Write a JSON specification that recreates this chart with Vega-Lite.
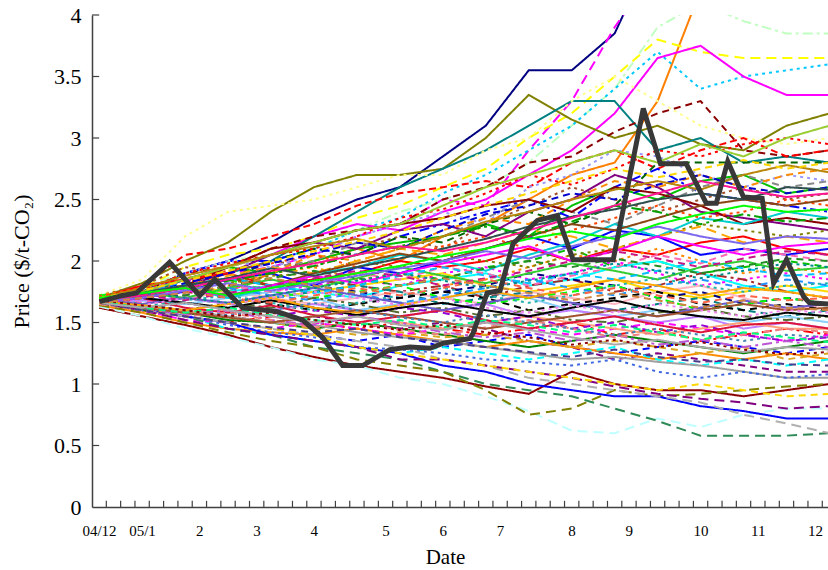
{
"$schema":"https://vega.github.io/schema/vega-lite/v6.json",
"width":736,"height":492,
"autosize":{"type":"none"},
"padding":{"left":92,"top":15,"right":0,"bottom":63},
"background":"white",
"config":{"view":{"stroke":null},"font":"Liberation Serif",
 "axis":{"labelFont":"Liberation Serif","titleFont":"Liberation Serif","labelColor":"#000","titleColor":"#000","titleFontWeight":"normal","domainColor":"#404040","domainWidth":1.5,"ticks":false,"grid":false}},
"datasets":{
"xt":[{"t":1},{"t":2},{"t":3},{"t":4},{"t":5},{"t":6},{"t":7},{"t":8},{"t":9},{"t":10},{"t":11},{"t":12},{"t":13},{"t":14},{"t":15},{"t":16},{"t":17},{"t":18},{"t":19},{"t":20},{"t":21},{"t":22},{"t":23},{"t":24},{"t":25},{"t":26},{"t":27},{"t":28},{"t":29},{"t":30},{"t":31},{"t":32},{"t":33},{"t":34},{"t":35},{"t":36},{"t":37},{"t":38},{"t":39},{"t":40},{"t":41},{"t":42},{"t":43},{"t":44},{"t":45},{"t":46},{"t":47},{"t":48},{"t":49},{"t":50},{"t":51}],
"yt":[{"v":0.5},{"v":1},{"v":1.5},{"v":2},{"v":2.5},{"v":3},{"v":3.5},{"v":4}],
"sim":[
{"s":"01","w":0.5,"p":1.68},{"s":"01","w":3.5,"p":1.75},{"s":"01","w":6.5,"p":1.9},{"s":"01","w":9.5,"p":2.0},{"s":"01","w":12.5,"p":2.15},{"s":"01","w":15.5,"p":2.35},{"s":"01","w":18.5,"p":2.5},{"s":"01","w":21.5,"p":2.6},{"s":"01","w":24.5,"p":2.85},{"s":"01","w":27.5,"p":3.1},{"s":"01","w":30.5,"p":3.55},{"s":"01","w":33.5,"p":3.55},{"s":"01","w":36.5,"p":3.85},{"s":"01","w":39.5,"p":4.6},{"s":"01","w":42.5,"p":4.9},{"s":"01","w":45.5,"p":5.0},{"s":"01","w":48.5,"p":5.0},{"s":"01","w":51.5,"p":5.0},
{"s":"02","w":0.5,"p":1.7},{"s":"02","w":3.5,"p":1.72},{"s":"02","w":6.5,"p":1.85},{"s":"02","w":9.5,"p":1.9},{"s":"02","w":12.5,"p":1.95},{"s":"02","w":15.5,"p":2.05},{"s":"02","w":18.5,"p":2.2},{"s":"02","w":21.5,"p":2.3},{"s":"02","w":24.5,"p":2.5},{"s":"02","w":27.5,"p":2.45},{"s":"02","w":30.5,"p":2.9},{"s":"02","w":33.5,"p":3.3},{"s":"02","w":36.5,"p":3.9},{"s":"02","w":39.5,"p":4.4},{"s":"02","w":42.5,"p":4.6},{"s":"02","w":45.5,"p":4.6},{"s":"02","w":48.5,"p":4.7},{"s":"02","w":51.5,"p":4.8},
{"s":"03","w":0.5,"p":1.65},{"s":"03","w":3.5,"p":1.7},{"s":"03","w":6.5,"p":1.8},{"s":"03","w":9.5,"p":1.75},{"s":"03","w":12.5,"p":1.9},{"s":"03","w":15.5,"p":2.0},{"s":"03","w":18.5,"p":2.1},{"s":"03","w":21.5,"p":2.0},{"s":"03","w":24.5,"p":2.2},{"s":"03","w":27.5,"p":2.3},{"s":"03","w":30.5,"p":2.5},{"s":"03","w":33.5,"p":2.7},{"s":"03","w":36.5,"p":2.8},{"s":"03","w":39.5,"p":3.3},{"s":"03","w":42.5,"p":4.2},{"s":"03","w":45.5,"p":4.5},{"s":"03","w":48.5,"p":4.5},{"s":"03","w":51.5,"p":4.5},
{"s":"04","w":0.5,"p":1.72},{"s":"04","w":3.5,"p":1.8},{"s":"04","w":6.5,"p":1.9},{"s":"04","w":9.5,"p":2.0},{"s":"04","w":12.5,"p":2.05},{"s":"04","w":15.5,"p":2.1},{"s":"04","w":18.5,"p":2.25},{"s":"04","w":21.5,"p":2.4},{"s":"04","w":24.5,"p":2.5},{"s":"04","w":27.5,"p":2.6},{"s":"04","w":30.5,"p":2.8},{"s":"04","w":33.5,"p":3.1},{"s":"04","w":36.5,"p":3.4},{"s":"04","w":39.5,"p":3.9},{"s":"04","w":42.5,"p":4.1},{"s":"04","w":45.5,"p":3.95},{"s":"04","w":48.5,"p":3.85},{"s":"04","w":51.5,"p":3.85},
{"s":"05","w":0.5,"p":1.7},{"s":"05","w":3.5,"p":1.78},{"s":"05","w":6.5,"p":1.95},{"s":"05","w":9.5,"p":2.05},{"s":"05","w":12.5,"p":2.1},{"s":"05","w":15.5,"p":2.2},{"s":"05","w":18.5,"p":2.35},{"s":"05","w":21.5,"p":2.45},{"s":"05","w":24.5,"p":2.6},{"s":"05","w":27.5,"p":2.75},{"s":"05","w":30.5,"p":3.0},{"s":"05","w":33.5,"p":3.2},{"s":"05","w":36.5,"p":3.5},{"s":"05","w":39.5,"p":3.8},{"s":"05","w":42.5,"p":3.7},{"s":"05","w":45.5,"p":3.65},{"s":"05","w":48.5,"p":3.65},{"s":"05","w":51.5,"p":3.65},
{"s":"06","w":0.5,"p":1.66},{"s":"06","w":3.5,"p":1.7},{"s":"06","w":6.5,"p":1.8},{"s":"06","w":9.5,"p":1.9},{"s":"06","w":12.5,"p":2.0},{"s":"06","w":15.5,"p":2.1},{"s":"06","w":18.5,"p":2.25},{"s":"06","w":21.5,"p":2.35},{"s":"06","w":24.5,"p":2.55},{"s":"06","w":27.5,"p":2.7},{"s":"06","w":30.5,"p":2.9},{"s":"06","w":33.5,"p":3.1},{"s":"06","w":36.5,"p":3.4},{"s":"06","w":39.5,"p":3.7},{"s":"06","w":42.5,"p":3.4},{"s":"06","w":45.5,"p":3.5},{"s":"06","w":48.5,"p":3.55},{"s":"06","w":51.5,"p":3.6},
{"s":"07","w":0.5,"p":1.68},{"s":"07","w":3.5,"p":1.75},{"s":"07","w":6.5,"p":1.85},{"s":"07","w":9.5,"p":1.95},{"s":"07","w":12.5,"p":2.05},{"s":"07","w":15.5,"p":2.2},{"s":"07","w":18.5,"p":2.3},{"s":"07","w":21.5,"p":2.25},{"s":"07","w":24.5,"p":2.4},{"s":"07","w":27.5,"p":2.5},{"s":"07","w":30.5,"p":2.7},{"s":"07","w":33.5,"p":2.9},{"s":"07","w":36.5,"p":3.2},{"s":"07","w":39.5,"p":3.65},{"s":"07","w":42.5,"p":3.75},{"s":"07","w":45.5,"p":3.5},{"s":"07","w":48.5,"p":3.35},{"s":"07","w":51.5,"p":3.35},
{"s":"08","w":0.5,"p":1.7},{"s":"08","w":3.5,"p":1.82},{"s":"08","w":6.5,"p":2.0},{"s":"08","w":9.5,"p":2.15},{"s":"08","w":12.5,"p":2.4},{"s":"08","w":15.5,"p":2.6},{"s":"08","w":18.5,"p":2.7},{"s":"08","w":21.5,"p":2.7},{"s":"08","w":24.5,"p":2.75},{"s":"08","w":27.5,"p":3.0},{"s":"08","w":30.5,"p":3.35},{"s":"08","w":33.5,"p":3.15},{"s":"08","w":36.5,"p":3.0},{"s":"08","w":39.5,"p":3.1},{"s":"08","w":42.5,"p":2.95},{"s":"08","w":45.5,"p":2.9},{"s":"08","w":48.5,"p":3.1},{"s":"08","w":51.5,"p":3.2},
{"s":"09","w":0.5,"p":1.65},{"s":"09","w":3.5,"p":1.72},{"s":"09","w":6.5,"p":1.85},{"s":"09","w":9.5,"p":1.9},{"s":"09","w":12.5,"p":2.0},{"s":"09","w":15.5,"p":2.2},{"s":"09","w":18.5,"p":2.4},{"s":"09","w":21.5,"p":2.6},{"s":"09","w":24.5,"p":2.75},{"s":"09","w":27.5,"p":2.9},{"s":"09","w":30.5,"p":3.1},{"s":"09","w":33.5,"p":3.3},{"s":"09","w":36.5,"p":3.3},{"s":"09","w":39.5,"p":2.9},{"s":"09","w":42.5,"p":3.0},{"s":"09","w":45.5,"p":2.8},{"s":"09","w":48.5,"p":2.85},{"s":"09","w":51.5,"p":2.8},
{"s":"10","w":0.5,"p":1.7},{"s":"10","w":3.5,"p":1.75},{"s":"10","w":6.5,"p":1.9},{"s":"10","w":9.5,"p":1.95},{"s":"10","w":12.5,"p":2.1},{"s":"10","w":15.5,"p":2.2},{"s":"10","w":18.5,"p":2.25},{"s":"10","w":21.5,"p":2.3},{"s":"10","w":24.5,"p":2.5},{"s":"10","w":27.5,"p":2.6},{"s":"10","w":30.5,"p":2.8},{"s":"10","w":33.5,"p":2.85},{"s":"10","w":36.5,"p":3.05},{"s":"10","w":39.5,"p":3.2},{"s":"10","w":42.5,"p":3.3},{"s":"10","w":45.5,"p":2.9},{"s":"10","w":48.5,"p":2.85},{"s":"10","w":51.5,"p":2.9},
{"s":"11","w":0.5,"p":1.72},{"s":"11","w":3.5,"p":1.85},{"s":"11","w":6.5,"p":2.2},{"s":"11","w":9.5,"p":2.4},{"s":"11","w":12.5,"p":2.45},{"s":"11","w":15.5,"p":2.5},{"s":"11","w":18.5,"p":2.6},{"s":"11","w":21.5,"p":2.7},{"s":"11","w":24.5,"p":2.7},{"s":"11","w":27.5,"p":2.9},{"s":"11","w":30.5,"p":3.0},{"s":"11","w":33.5,"p":3.3},{"s":"11","w":36.5,"p":3.5},{"s":"11","w":39.5,"p":3.3},{"s":"11","w":42.5,"p":3.1},{"s":"11","w":45.5,"p":3.0},{"s":"11","w":48.5,"p":2.95},{"s":"11","w":51.5,"p":3.0},
{"s":"12","w":0.5,"p":1.68},{"s":"12","w":3.5,"p":1.8},{"s":"12","w":6.5,"p":2.05},{"s":"12","w":9.5,"p":2.1},{"s":"12","w":12.5,"p":2.2},{"s":"12","w":15.5,"p":2.3},{"s":"12","w":18.5,"p":2.45},{"s":"12","w":21.5,"p":2.55},{"s":"12","w":24.5,"p":2.6},{"s":"12","w":27.5,"p":2.65},{"s":"12","w":30.5,"p":2.6},{"s":"12","w":33.5,"p":2.8},{"s":"12","w":36.5,"p":2.9},{"s":"12","w":39.5,"p":2.75},{"s":"12","w":42.5,"p":2.9},{"s":"12","w":45.5,"p":3.0},{"s":"12","w":48.5,"p":2.85},{"s":"12","w":51.5,"p":2.9},
{"s":"13","w":0.5,"p":1.7},{"s":"13","w":3.5,"p":1.75},{"s":"13","w":6.5,"p":1.85},{"s":"13","w":9.5,"p":1.95},{"s":"13","w":12.5,"p":1.9},{"s":"13","w":15.5,"p":2.0},{"s":"13","w":18.5,"p":2.1},{"s":"13","w":21.5,"p":2.15},{"s":"13","w":24.5,"p":2.2},{"s":"13","w":27.5,"p":2.3},{"s":"13","w":30.5,"p":2.2},{"s":"13","w":33.5,"p":2.45},{"s":"13","w":36.5,"p":2.6},{"s":"13","w":39.5,"p":2.5},{"s":"13","w":42.5,"p":2.65},{"s":"13","w":45.5,"p":2.7},{"s":"13","w":48.5,"p":2.55},{"s":"13","w":51.5,"p":2.6},
{"s":"14","w":0.5,"p":1.65},{"s":"14","w":3.5,"p":1.7},{"s":"14","w":6.5,"p":1.9},{"s":"14","w":9.5,"p":2.0},{"s":"14","w":12.5,"p":2.0},{"s":"14","w":15.5,"p":2.1},{"s":"14","w":18.5,"p":2.05},{"s":"14","w":21.5,"p":2.2},{"s":"14","w":24.5,"p":2.3},{"s":"14","w":27.5,"p":2.4},{"s":"14","w":30.5,"p":2.5},{"s":"14","w":33.5,"p":2.35},{"s":"14","w":36.5,"p":2.6},{"s":"14","w":39.5,"p":2.75},{"s":"14","w":42.5,"p":2.55},{"s":"14","w":45.5,"p":2.5},{"s":"14","w":48.5,"p":2.45},{"s":"14","w":51.5,"p":2.4},
{"s":"15","w":0.5,"p":1.72},{"s":"15","w":3.5,"p":1.8},{"s":"15","w":6.5,"p":1.95},{"s":"15","w":9.5,"p":1.9},{"s":"15","w":12.5,"p":2.0},{"s":"15","w":15.5,"p":1.95},{"s":"15","w":18.5,"p":2.1},{"s":"15","w":21.5,"p":2.2},{"s":"15","w":24.5,"p":2.1},{"s":"15","w":27.5,"p":2.3},{"s":"15","w":30.5,"p":2.45},{"s":"15","w":33.5,"p":2.6},{"s":"15","w":36.5,"p":2.5},{"s":"15","w":39.5,"p":2.4},{"s":"15","w":42.5,"p":2.5},{"s":"15","w":45.5,"p":2.6},{"s":"15","w":48.5,"p":2.5},{"s":"15","w":51.5,"p":2.55},
{"s":"16","w":0.5,"p":1.68},{"s":"16","w":3.5,"p":1.75},{"s":"16","w":6.5,"p":1.8},{"s":"16","w":9.5,"p":1.9},{"s":"16","w":12.5,"p":2.05},{"s":"16","w":15.5,"p":2.15},{"s":"16","w":18.5,"p":2.1},{"s":"16","w":21.5,"p":2.25},{"s":"16","w":24.5,"p":2.3},{"s":"16","w":27.5,"p":2.2},{"s":"16","w":30.5,"p":2.4},{"s":"16","w":33.5,"p":2.5},{"s":"16","w":36.5,"p":2.7},{"s":"16","w":39.5,"p":2.6},{"s":"16","w":42.5,"p":2.4},{"s":"16","w":45.5,"p":2.35},{"s":"16","w":48.5,"p":2.3},{"s":"16","w":51.5,"p":2.25},
{"s":"17","w":0.5,"p":1.7},{"s":"17","w":3.5,"p":1.72},{"s":"17","w":6.5,"p":1.85},{"s":"17","w":9.5,"p":1.8},{"s":"17","w":12.5,"p":1.95},{"s":"17","w":15.5,"p":2.0},{"s":"17","w":18.5,"p":2.15},{"s":"17","w":21.5,"p":2.1},{"s":"17","w":24.5,"p":2.2},{"s":"17","w":27.5,"p":2.35},{"s":"17","w":30.5,"p":2.5},{"s":"17","w":33.5,"p":2.4},{"s":"17","w":36.5,"p":2.3},{"s":"17","w":39.5,"p":2.45},{"s":"17","w":42.5,"p":2.6},{"s":"17","w":45.5,"p":2.7},{"s":"17","w":48.5,"p":2.6},{"s":"17","w":51.5,"p":2.65},
{"s":"18","w":0.5,"p":1.66},{"s":"18","w":3.5,"p":1.74},{"s":"18","w":6.5,"p":1.9},{"s":"18","w":9.5,"p":2.0},{"s":"18","w":12.5,"p":1.95},{"s":"18","w":15.5,"p":2.05},{"s":"18","w":18.5,"p":2.2},{"s":"18","w":21.5,"p":2.3},{"s":"18","w":24.5,"p":2.4},{"s":"18","w":27.5,"p":2.3},{"s":"18","w":30.5,"p":2.6},{"s":"18","w":33.5,"p":2.7},{"s":"18","w":36.5,"p":2.9},{"s":"18","w":39.5,"p":2.85},{"s":"18","w":42.5,"p":2.7},{"s":"18","w":45.5,"p":2.6},{"s":"18","w":48.5,"p":2.7},{"s":"18","w":51.5,"p":2.65},
{"s":"19","w":0.5,"p":1.7},{"s":"19","w":3.5,"p":1.76},{"s":"19","w":6.5,"p":1.8},{"s":"19","w":9.5,"p":1.85},{"s":"19","w":12.5,"p":2.0},{"s":"19","w":15.5,"p":2.1},{"s":"19","w":18.5,"p":2.05},{"s":"19","w":21.5,"p":2.2},{"s":"19","w":24.5,"p":2.15},{"s":"19","w":27.5,"p":2.3},{"s":"19","w":30.5,"p":2.4},{"s":"19","w":33.5,"p":2.3},{"s":"19","w":36.5,"p":2.45},{"s":"19","w":39.5,"p":2.8},{"s":"19","w":42.5,"p":2.8},{"s":"19","w":45.5,"p":2.8},{"s":"19","w":48.5,"p":2.8},{"s":"19","w":51.5,"p":2.8},
{"s":"20","w":0.5,"p":1.67},{"s":"20","w":3.5,"p":1.74},{"s":"20","w":6.5,"p":1.85},{"s":"20","w":9.5,"p":1.8},{"s":"20","w":12.5,"p":1.9},{"s":"20","w":15.5,"p":2.05},{"s":"20","w":18.5,"p":2.0},{"s":"20","w":21.5,"p":2.1},{"s":"20","w":24.5,"p":2.25},{"s":"20","w":27.5,"p":2.35},{"s":"20","w":30.5,"p":2.3},{"s":"20","w":33.5,"p":2.5},{"s":"20","w":36.5,"p":2.65},{"s":"20","w":39.5,"p":2.6},{"s":"20","w":42.5,"p":2.7},{"s":"20","w":45.5,"p":2.6},{"s":"20","w":48.5,"p":2.7},{"s":"20","w":51.5,"p":2.75},
{"s":"21","w":0.5,"p":1.68},{"s":"21","w":3.5,"p":1.72},{"s":"21","w":6.5,"p":1.8},{"s":"21","w":9.5,"p":1.95},{"s":"21","w":12.5,"p":2.1},{"s":"21","w":15.5,"p":2.15},{"s":"21","w":18.5,"p":2.25},{"s":"21","w":21.5,"p":2.3},{"s":"21","w":24.5,"p":2.35},{"s":"21","w":27.5,"p":2.45},{"s":"21","w":30.5,"p":2.5},{"s":"21","w":33.5,"p":2.4},{"s":"21","w":36.5,"p":2.6},{"s":"21","w":39.5,"p":2.55},{"s":"21","w":42.5,"p":2.45},{"s":"21","w":45.5,"p":2.3},{"s":"21","w":48.5,"p":2.35},{"s":"21","w":51.5,"p":2.3},
{"s":"22","w":0.5,"p":1.7},{"s":"22","w":3.5,"p":1.8},{"s":"22","w":6.5,"p":1.85},{"s":"22","w":9.5,"p":1.9},{"s":"22","w":12.5,"p":1.8},{"s":"22","w":15.5,"p":1.85},{"s":"22","w":18.5,"p":1.9},{"s":"22","w":21.5,"p":2.0},{"s":"22","w":24.5,"p":1.95},{"s":"22","w":27.5,"p":2.0},{"s":"22","w":30.5,"p":2.1},{"s":"22","w":33.5,"p":2.0},{"s":"22","w":36.5,"p":2.1},{"s":"22","w":39.5,"p":2.05},{"s":"22","w":42.5,"p":2.15},{"s":"22","w":45.5,"p":2.2},{"s":"22","w":48.5,"p":2.1},{"s":"22","w":51.5,"p":2.05},
{"s":"23","w":0.5,"p":1.66},{"s":"23","w":3.5,"p":1.72},{"s":"23","w":6.5,"p":1.8},{"s":"23","w":9.5,"p":1.75},{"s":"23","w":12.5,"p":1.8},{"s":"23","w":15.5,"p":1.85},{"s":"23","w":18.5,"p":1.8},{"s":"23","w":21.5,"p":1.9},{"s":"23","w":24.5,"p":1.85},{"s":"23","w":27.5,"p":1.95},{"s":"23","w":30.5,"p":2.0},{"s":"23","w":33.5,"p":2.1},{"s":"23","w":36.5,"p":1.95},{"s":"23","w":39.5,"p":2.0},{"s":"23","w":42.5,"p":1.9},{"s":"23","w":45.5,"p":1.95},{"s":"23","w":48.5,"p":2.0},{"s":"23","w":51.5,"p":1.95},
{"s":"24","w":0.5,"p":1.68},{"s":"24","w":3.5,"p":1.7},{"s":"24","w":6.5,"p":1.75},{"s":"24","w":9.5,"p":1.85},{"s":"24","w":12.5,"p":1.9},{"s":"24","w":15.5,"p":1.8},{"s":"24","w":18.5,"p":1.95},{"s":"24","w":21.5,"p":1.9},{"s":"24","w":24.5,"p":2.0},{"s":"24","w":27.5,"p":2.1},{"s":"24","w":30.5,"p":2.2},{"s":"24","w":33.5,"p":2.1},{"s":"24","w":36.5,"p":2.25},{"s":"24","w":39.5,"p":2.2},{"s":"24","w":42.5,"p":2.05},{"s":"24","w":45.5,"p":2.1},{"s":"24","w":48.5,"p":2.05},{"s":"24","w":51.5,"p":2.1},
{"s":"25","w":0.5,"p":1.7},{"s":"25","w":3.5,"p":1.75},{"s":"25","w":6.5,"p":1.85},{"s":"25","w":9.5,"p":1.8},{"s":"25","w":12.5,"p":1.75},{"s":"25","w":15.5,"p":1.8},{"s":"25","w":18.5,"p":1.85},{"s":"25","w":21.5,"p":1.8},{"s":"25","w":24.5,"p":1.9},{"s":"25","w":27.5,"p":1.95},{"s":"25","w":30.5,"p":1.85},{"s":"25","w":33.5,"p":1.9},{"s":"25","w":36.5,"p":2.0},{"s":"25","w":39.5,"p":1.9},{"s":"25","w":42.5,"p":1.8},{"s":"25","w":45.5,"p":1.85},{"s":"25","w":48.5,"p":1.9},{"s":"25","w":51.5,"p":1.85},
{"s":"26","w":0.5,"p":1.65},{"s":"26","w":3.5,"p":1.68},{"s":"26","w":6.5,"p":1.7},{"s":"26","w":9.5,"p":1.75},{"s":"26","w":12.5,"p":1.8},{"s":"26","w":15.5,"p":1.75},{"s":"26","w":18.5,"p":1.7},{"s":"26","w":21.5,"p":1.8},{"s":"26","w":24.5,"p":1.85},{"s":"26","w":27.5,"p":1.9},{"s":"26","w":30.5,"p":1.8},{"s":"26","w":33.5,"p":1.85},{"s":"26","w":36.5,"p":1.95},{"s":"26","w":39.5,"p":2.0},{"s":"26","w":42.5,"p":1.9},{"s":"26","w":45.5,"p":1.8},{"s":"26","w":48.5,"p":1.75},{"s":"26","w":51.5,"p":1.8},
{"s":"27","w":0.5,"p":1.72},{"s":"27","w":3.5,"p":1.78},{"s":"27","w":6.5,"p":1.8},{"s":"27","w":9.5,"p":1.85},{"s":"27","w":12.5,"p":1.9},{"s":"27","w":15.5,"p":1.95},{"s":"27","w":18.5,"p":1.85},{"s":"27","w":21.5,"p":1.9},{"s":"27","w":24.5,"p":1.8},{"s":"27","w":27.5,"p":1.85},{"s":"27","w":30.5,"p":1.95},{"s":"27","w":33.5,"p":2.05},{"s":"27","w":36.5,"p":2.0},{"s":"27","w":39.5,"p":2.1},{"s":"27","w":42.5,"p":2.0},{"s":"27","w":45.5,"p":1.9},{"s":"27","w":48.5,"p":1.95},{"s":"27","w":51.5,"p":1.9},
{"s":"28","w":0.5,"p":1.67},{"s":"28","w":3.5,"p":1.7},{"s":"28","w":6.5,"p":1.75},{"s":"28","w":9.5,"p":1.7},{"s":"28","w":12.5,"p":1.75},{"s":"28","w":15.5,"p":1.85},{"s":"28","w":18.5,"p":1.8},{"s":"28","w":21.5,"p":1.75},{"s":"28","w":24.5,"p":1.8},{"s":"28","w":27.5,"p":1.7},{"s":"28","w":30.5,"p":1.8},{"s":"28","w":33.5,"p":1.85},{"s":"28","w":36.5,"p":1.75},{"s":"28","w":39.5,"p":1.8},{"s":"28","w":42.5,"p":1.9},{"s":"28","w":45.5,"p":1.85},{"s":"28","w":48.5,"p":1.75},{"s":"28","w":51.5,"p":1.7},
{"s":"29","w":0.5,"p":1.7},{"s":"29","w":3.5,"p":1.74},{"s":"29","w":6.5,"p":1.8},{"s":"29","w":9.5,"p":1.75},{"s":"29","w":12.5,"p":1.7},{"s":"29","w":15.5,"p":1.75},{"s":"29","w":18.5,"p":1.8},{"s":"29","w":21.5,"p":1.85},{"s":"29","w":24.5,"p":1.9},{"s":"29","w":27.5,"p":1.8},{"s":"29","w":30.5,"p":1.75},{"s":"29","w":33.5,"p":1.8},{"s":"29","w":36.5,"p":1.85},{"s":"29","w":39.5,"p":1.75},{"s":"29","w":42.5,"p":1.7},{"s":"29","w":45.5,"p":1.75},{"s":"29","w":48.5,"p":1.8},{"s":"29","w":51.5,"p":1.75},
{"s":"30","w":0.5,"p":1.66},{"s":"30","w":3.5,"p":1.7},{"s":"30","w":6.5,"p":1.72},{"s":"30","w":9.5,"p":1.8},{"s":"30","w":12.5,"p":1.85},{"s":"30","w":15.5,"p":1.8},{"s":"30","w":18.5,"p":1.75},{"s":"30","w":21.5,"p":1.7},{"s":"30","w":24.5,"p":1.75},{"s":"30","w":27.5,"p":1.8},{"s":"30","w":30.5,"p":1.9},{"s":"30","w":33.5,"p":1.85},{"s":"30","w":36.5,"p":1.8},{"s":"30","w":39.5,"p":1.7},{"s":"30","w":42.5,"p":1.75},{"s":"30","w":45.5,"p":1.65},{"s":"30","w":48.5,"p":1.7},{"s":"30","w":51.5,"p":1.65},
{"s":"31","w":0.5,"p":1.68},{"s":"31","w":3.5,"p":1.65},{"s":"31","w":6.5,"p":1.7},{"s":"31","w":9.5,"p":1.75},{"s":"31","w":12.5,"p":1.7},{"s":"31","w":15.5,"p":1.65},{"s":"31","w":18.5,"p":1.7},{"s":"31","w":21.5,"p":1.75},{"s":"31","w":24.5,"p":1.7},{"s":"31","w":27.5,"p":1.65},{"s":"31","w":30.5,"p":1.75},{"s":"31","w":33.5,"p":1.7},{"s":"31","w":36.5,"p":1.65},{"s":"31","w":39.5,"p":1.75},{"s":"31","w":42.5,"p":1.8},{"s":"31","w":45.5,"p":1.7},{"s":"31","w":48.5,"p":1.6},{"s":"31","w":51.5,"p":1.65},
{"s":"32","w":0.5,"p":1.7},{"s":"32","w":3.5,"p":1.75},{"s":"32","w":6.5,"p":1.7},{"s":"32","w":9.5,"p":1.65},{"s":"32","w":12.5,"p":1.7},{"s":"32","w":15.5,"p":1.75},{"s":"32","w":18.5,"p":1.8},{"s":"32","w":21.5,"p":1.75},{"s":"32","w":24.5,"p":1.65},{"s":"32","w":27.5,"p":1.7},{"s":"32","w":30.5,"p":1.75},{"s":"32","w":33.5,"p":1.65},{"s":"32","w":36.5,"p":1.6},{"s":"32","w":39.5,"p":1.65},{"s":"32","w":42.5,"p":1.7},{"s":"32","w":45.5,"p":1.6},{"s":"32","w":48.5,"p":1.55},{"s":"32","w":51.5,"p":1.6},
{"s":"33","w":0.5,"p":1.65},{"s":"33","w":3.5,"p":1.7},{"s":"33","w":6.5,"p":1.75},{"s":"33","w":9.5,"p":1.7},{"s":"33","w":12.5,"p":1.65},{"s":"33","w":15.5,"p":1.6},{"s":"33","w":18.5,"p":1.65},{"s":"33","w":21.5,"p":1.7},{"s":"33","w":24.5,"p":1.75},{"s":"33","w":27.5,"p":1.7},{"s":"33","w":30.5,"p":1.6},{"s":"33","w":33.5,"p":1.65},{"s":"33","w":36.5,"p":1.7},{"s":"33","w":39.5,"p":1.75},{"s":"33","w":42.5,"p":1.65},{"s":"33","w":45.5,"p":1.6},{"s":"33","w":48.5,"p":1.65},{"s":"33","w":51.5,"p":1.6},
{"s":"34","w":0.5,"p":1.7},{"s":"34","w":3.5,"p":1.68},{"s":"34","w":6.5,"p":1.65},{"s":"34","w":9.5,"p":1.7},{"s":"34","w":12.5,"p":1.75},{"s":"34","w":15.5,"p":1.7},{"s":"34","w":18.5,"p":1.6},{"s":"34","w":21.5,"p":1.65},{"s":"34","w":24.5,"p":1.7},{"s":"34","w":27.5,"p":1.75},{"s":"34","w":30.5,"p":1.7},{"s":"34","w":33.5,"p":1.6},{"s":"34","w":36.5,"p":1.55},{"s":"34","w":39.5,"p":1.6},{"s":"34","w":42.5,"p":1.55},{"s":"34","w":45.5,"p":1.5},{"s":"34","w":48.5,"p":1.55},{"s":"34","w":51.5,"p":1.5},
{"s":"35","w":0.5,"p":1.72},{"s":"35","w":3.5,"p":1.75},{"s":"35","w":6.5,"p":1.8},{"s":"35","w":9.5,"p":1.85},{"s":"35","w":12.5,"p":1.75},{"s":"35","w":15.5,"p":1.7},{"s":"35","w":18.5,"p":1.75},{"s":"35","w":21.5,"p":1.8},{"s":"35","w":24.5,"p":1.7},{"s":"35","w":27.5,"p":1.65},{"s":"35","w":30.5,"p":1.7},{"s":"35","w":33.5,"p":1.75},{"s":"35","w":36.5,"p":1.8},{"s":"35","w":39.5,"p":1.7},{"s":"35","w":42.5,"p":1.6},{"s":"35","w":45.5,"p":1.65},{"s":"35","w":48.5,"p":1.7},{"s":"35","w":51.5,"p":1.65},
{"s":"36","w":0.5,"p":1.66},{"s":"36","w":3.5,"p":1.68},{"s":"36","w":6.5,"p":1.7},{"s":"36","w":9.5,"p":1.65},{"s":"36","w":12.5,"p":1.6},{"s":"36","w":15.5,"p":1.65},{"s":"36","w":18.5,"p":1.6},{"s":"36","w":21.5,"p":1.55},{"s":"36","w":24.5,"p":1.6},{"s":"36","w":27.5,"p":1.65},{"s":"36","w":30.5,"p":1.55},{"s":"36","w":33.5,"p":1.6},{"s":"36","w":36.5,"p":1.55},{"s":"36","w":39.5,"p":1.5},{"s":"36","w":42.5,"p":1.55},{"s":"36","w":45.5,"p":1.45},{"s":"36","w":48.5,"p":1.5},{"s":"36","w":51.5,"p":1.45},
{"s":"37","w":0.5,"p":1.68},{"s":"37","w":3.5,"p":1.72},{"s":"37","w":6.5,"p":1.78},{"s":"37","w":9.5,"p":1.82},{"s":"37","w":12.5,"p":1.88},{"s":"37","w":15.5,"p":1.9},{"s":"37","w":18.5,"p":2.0},{"s":"37","w":21.5,"p":1.95},{"s":"37","w":24.5,"p":2.05},{"s":"37","w":27.5,"p":2.0},{"s":"37","w":30.5,"p":1.95},{"s":"37","w":33.5,"p":2.05},{"s":"37","w":36.5,"p":2.1},{"s":"37","w":39.5,"p":2.2},{"s":"37","w":42.5,"p":2.3},{"s":"37","w":45.5,"p":2.25},{"s":"37","w":48.5,"p":2.2},{"s":"37","w":51.5,"p":2.25},
{"s":"38","w":0.5,"p":1.65},{"s":"38","w":3.5,"p":1.6},{"s":"38","w":6.5,"p":1.55},{"s":"38","w":9.5,"p":1.5},{"s":"38","w":12.5,"p":1.55},{"s":"38","w":15.5,"p":1.5},{"s":"38","w":18.5,"p":1.45},{"s":"38","w":21.5,"p":1.5},{"s":"38","w":24.5,"p":1.45},{"s":"38","w":27.5,"p":1.4},{"s":"38","w":30.5,"p":1.45},{"s":"38","w":33.5,"p":1.5},{"s":"38","w":36.5,"p":1.4},{"s":"38","w":39.5,"p":1.45},{"s":"38","w":42.5,"p":1.35},{"s":"38","w":45.5,"p":1.4},{"s":"38","w":48.5,"p":1.45},{"s":"38","w":51.5,"p":1.4},
{"s":"39","w":0.5,"p":1.67},{"s":"39","w":3.5,"p":1.62},{"s":"39","w":6.5,"p":1.55},{"s":"39","w":9.5,"p":1.5},{"s":"39","w":12.5,"p":1.45},{"s":"39","w":15.5,"p":1.4},{"s":"39","w":18.5,"p":1.35},{"s":"39","w":21.5,"p":1.4},{"s":"39","w":24.5,"p":1.3},{"s":"39","w":27.5,"p":1.35},{"s":"39","w":30.5,"p":1.4},{"s":"39","w":33.5,"p":1.3},{"s":"39","w":36.5,"p":1.25},{"s":"39","w":39.5,"p":1.3},{"s":"39","w":42.5,"p":1.35},{"s":"39","w":45.5,"p":1.3},{"s":"39","w":48.5,"p":1.25},{"s":"39","w":51.5,"p":1.3},
{"s":"40","w":0.5,"p":1.66},{"s":"40","w":3.5,"p":1.6},{"s":"40","w":6.5,"p":1.58},{"s":"40","w":9.5,"p":1.52},{"s":"40","w":12.5,"p":1.5},{"s":"40","w":15.5,"p":1.45},{"s":"40","w":18.5,"p":1.5},{"s":"40","w":21.5,"p":1.45},{"s":"40","w":24.5,"p":1.4},{"s":"40","w":27.5,"p":1.35},{"s":"40","w":30.5,"p":1.3},{"s":"40","w":33.5,"p":1.35},{"s":"40","w":36.5,"p":1.4},{"s":"40","w":39.5,"p":1.35},{"s":"40","w":42.5,"p":1.3},{"s":"40","w":45.5,"p":1.25},{"s":"40","w":48.5,"p":1.3},{"s":"40","w":51.5,"p":1.35},
{"s":"41","w":0.5,"p":1.68},{"s":"41","w":3.5,"p":1.62},{"s":"41","w":6.5,"p":1.6},{"s":"41","w":9.5,"p":1.55},{"s":"41","w":12.5,"p":1.5},{"s":"41","w":15.5,"p":1.55},{"s":"41","w":18.5,"p":1.5},{"s":"41","w":21.5,"p":1.45},{"s":"41","w":24.5,"p":1.5},{"s":"41","w":27.5,"p":1.45},{"s":"41","w":30.5,"p":1.35},{"s":"41","w":33.5,"p":1.3},{"s":"41","w":36.5,"p":1.2},{"s":"41","w":39.5,"p":1.25},{"s":"41","w":42.5,"p":1.2},{"s":"41","w":45.5,"p":1.15},{"s":"41","w":48.5,"p":1.1},{"s":"41","w":51.5,"p":1.1},
{"s":"42","w":0.5,"p":1.64},{"s":"42","w":3.5,"p":1.58},{"s":"42","w":6.5,"p":1.5},{"s":"42","w":9.5,"p":1.45},{"s":"42","w":12.5,"p":1.42},{"s":"42","w":15.5,"p":1.4},{"s":"42","w":18.5,"p":1.45},{"s":"42","w":21.5,"p":1.4},{"s":"42","w":24.5,"p":1.35},{"s":"42","w":27.5,"p":1.3},{"s":"42","w":30.5,"p":1.35},{"s":"42","w":33.5,"p":1.3},{"s":"42","w":36.5,"p":1.25},{"s":"42","w":39.5,"p":1.2},{"s":"42","w":42.5,"p":1.25},{"s":"42","w":45.5,"p":1.2},{"s":"42","w":48.5,"p":1.25},{"s":"42","w":51.5,"p":1.2},
{"s":"43","w":0.5,"p":1.66},{"s":"43","w":3.5,"p":1.6},{"s":"43","w":6.5,"p":1.55},{"s":"43","w":9.5,"p":1.45},{"s":"43","w":12.5,"p":1.4},{"s":"43","w":15.5,"p":1.35},{"s":"43","w":18.5,"p":1.3},{"s":"43","w":21.5,"p":1.25},{"s":"43","w":24.5,"p":1.3},{"s":"43","w":27.5,"p":1.25},{"s":"43","w":30.5,"p":1.2},{"s":"43","w":33.5,"p":1.25},{"s":"43","w":36.5,"p":1.3},{"s":"43","w":39.5,"p":1.2},{"s":"43","w":42.5,"p":1.15},{"s":"43","w":45.5,"p":1.2},{"s":"43","w":48.5,"p":1.15},{"s":"43","w":51.5,"p":1.2},
{"s":"44","w":0.5,"p":1.65},{"s":"44","w":3.5,"p":1.63},{"s":"44","w":6.5,"p":1.58},{"s":"44","w":9.5,"p":1.55},{"s":"44","w":12.5,"p":1.5},{"s":"44","w":15.5,"p":1.45},{"s":"44","w":18.5,"p":1.4},{"s":"44","w":21.5,"p":1.42},{"s":"44","w":24.5,"p":1.38},{"s":"44","w":27.5,"p":1.4},{"s":"44","w":30.5,"p":1.35},{"s":"44","w":33.5,"p":1.3},{"s":"44","w":36.5,"p":1.35},{"s":"44","w":39.5,"p":1.3},{"s":"44","w":42.5,"p":1.25},{"s":"44","w":45.5,"p":1.3},{"s":"44","w":48.5,"p":1.2},{"s":"44","w":51.5,"p":1.25},
{"s":"45","w":0.5,"p":1.68},{"s":"45","w":3.5,"p":1.64},{"s":"45","w":6.5,"p":1.6},{"s":"45","w":9.5,"p":1.55},{"s":"45","w":12.5,"p":1.5},{"s":"45","w":15.5,"p":1.48},{"s":"45","w":18.5,"p":1.42},{"s":"45","w":21.5,"p":1.38},{"s":"45","w":24.5,"p":1.35},{"s":"45","w":27.5,"p":1.3},{"s":"45","w":30.5,"p":1.25},{"s":"45","w":33.5,"p":1.2},{"s":"45","w":36.5,"p":1.22},{"s":"45","w":39.5,"p":1.18},{"s":"45","w":42.5,"p":1.15},{"s":"45","w":45.5,"p":1.1},{"s":"45","w":48.5,"p":1.05},{"s":"45","w":51.5,"p":1.05},
{"s":"46","w":0.5,"p":1.66},{"s":"46","w":3.5,"p":1.6},{"s":"46","w":6.5,"p":1.52},{"s":"46","w":9.5,"p":1.5},{"s":"46","w":12.5,"p":1.45},{"s":"46","w":15.5,"p":1.5},{"s":"46","w":18.5,"p":1.45},{"s":"46","w":21.5,"p":1.4},{"s":"46","w":24.5,"p":1.45},{"s":"46","w":27.5,"p":1.5},{"s":"46","w":30.5,"p":1.45},{"s":"46","w":33.5,"p":1.4},{"s":"46","w":36.5,"p":1.45},{"s":"46","w":39.5,"p":1.5},{"s":"46","w":42.5,"p":1.45},{"s":"46","w":45.5,"p":1.4},{"s":"46","w":48.5,"p":1.35},{"s":"46","w":51.5,"p":1.4},
{"s":"47","w":0.5,"p":1.65},{"s":"47","w":3.5,"p":1.62},{"s":"47","w":6.5,"p":1.58},{"s":"47","w":9.5,"p":1.6},{"s":"47","w":12.5,"p":1.55},{"s":"47","w":15.5,"p":1.5},{"s":"47","w":18.5,"p":1.55},{"s":"47","w":21.5,"p":1.5},{"s":"47","w":24.5,"p":1.45},{"s":"47","w":27.5,"p":1.5},{"s":"47","w":30.5,"p":1.55},{"s":"47","w":33.5,"p":1.5},{"s":"47","w":36.5,"p":1.45},{"s":"47","w":39.5,"p":1.4},{"s":"47","w":42.5,"p":1.45},{"s":"47","w":45.5,"p":1.5},{"s":"47","w":48.5,"p":1.45},{"s":"47","w":51.5,"p":1.45},
{"s":"48","w":0.5,"p":1.67},{"s":"48","w":3.5,"p":1.6},{"s":"48","w":6.5,"p":1.55},{"s":"48","w":9.5,"p":1.48},{"s":"48","w":12.5,"p":1.42},{"s":"48","w":15.5,"p":1.38},{"s":"48","w":18.5,"p":1.3},{"s":"48","w":21.5,"p":1.28},{"s":"48","w":24.5,"p":1.25},{"s":"48","w":27.5,"p":1.2},{"s":"48","w":30.5,"p":1.18},{"s":"48","w":33.5,"p":1.15},{"s":"48","w":36.5,"p":1.2},{"s":"48","w":39.5,"p":1.1},{"s":"48","w":42.5,"p":1.05},{"s":"48","w":45.5,"p":1.1},{"s":"48","w":48.5,"p":1.05},{"s":"48","w":51.5,"p":1.08},
{"s":"49","w":0.5,"p":1.62},{"s":"49","w":3.5,"p":1.55},{"s":"49","w":6.5,"p":1.48},{"s":"49","w":9.5,"p":1.4},{"s":"49","w":12.5,"p":1.3},{"s":"49","w":15.5,"p":1.22},{"s":"49","w":18.5,"p":1.15},{"s":"49","w":21.5,"p":1.1},{"s":"49","w":24.5,"p":1.05},{"s":"49","w":27.5,"p":0.98},{"s":"49","w":30.5,"p":0.92},{"s":"49","w":33.5,"p":1.1},{"s":"49","w":36.5,"p":1.0},{"s":"49","w":39.5,"p":0.95},{"s":"49","w":42.5,"p":0.95},{"s":"49","w":45.5,"p":0.9},{"s":"49","w":48.5,"p":0.95},{"s":"49","w":51.5,"p":1.0},
{"s":"50","w":0.5,"p":1.63},{"s":"50","w":3.5,"p":1.55},{"s":"50","w":6.5,"p":1.45},{"s":"50","w":9.5,"p":1.38},{"s":"50","w":12.5,"p":1.3},{"s":"50","w":15.5,"p":1.2},{"s":"50","w":18.5,"p":1.15},{"s":"50","w":21.5,"p":1.05},{"s":"50","w":24.5,"p":1.0},{"s":"50","w":27.5,"p":0.9},{"s":"50","w":30.5,"p":0.78},{"s":"50","w":33.5,"p":0.62},{"s":"50","w":36.5,"p":0.6},{"s":"50","w":39.5,"p":0.72},{"s":"50","w":42.5,"p":0.65},{"s":"50","w":45.5,"p":0.75},{"s":"50","w":48.5,"p":0.8},{"s":"50","w":51.5,"p":0.8},
{"s":"51","w":0.5,"p":1.66},{"s":"51","w":3.5,"p":1.6},{"s":"51","w":6.5,"p":1.55},{"s":"51","w":9.5,"p":1.45},{"s":"51","w":12.5,"p":1.4},{"s":"51","w":15.5,"p":1.3},{"s":"51","w":18.5,"p":1.25},{"s":"51","w":21.5,"p":1.2},{"s":"51","w":24.5,"p":1.1},{"s":"51","w":27.5,"p":1.0},{"s":"51","w":30.5,"p":0.95},{"s":"51","w":33.5,"p":0.9},{"s":"51","w":36.5,"p":0.8},{"s":"51","w":39.5,"p":0.7},{"s":"51","w":42.5,"p":0.58},{"s":"51","w":45.5,"p":0.58},{"s":"51","w":48.5,"p":0.58},{"s":"51","w":51.5,"p":0.6},
{"s":"52","w":0.5,"p":1.64},{"s":"52","w":3.5,"p":1.58},{"s":"52","w":6.5,"p":1.5},{"s":"52","w":9.5,"p":1.42},{"s":"52","w":12.5,"p":1.35},{"s":"52","w":15.5,"p":1.3},{"s":"52","w":18.5,"p":1.2},{"s":"52","w":21.5,"p":1.15},{"s":"52","w":24.5,"p":1.1},{"s":"52","w":27.5,"p":0.95},{"s":"52","w":30.5,"p":0.75},{"s":"52","w":33.5,"p":0.8},{"s":"52","w":36.5,"p":0.95},{"s":"52","w":39.5,"p":0.9},{"s":"52","w":42.5,"p":0.92},{"s":"52","w":45.5,"p":0.95},{"s":"52","w":48.5,"p":0.98},{"s":"52","w":51.5,"p":1.0},
{"s":"53","w":0.5,"p":1.66},{"s":"53","w":3.5,"p":1.62},{"s":"53","w":6.5,"p":1.55},{"s":"53","w":9.5,"p":1.5},{"s":"53","w":12.5,"p":1.4},{"s":"53","w":15.5,"p":1.35},{"s":"53","w":18.5,"p":1.3},{"s":"53","w":21.5,"p":1.25},{"s":"53","w":24.5,"p":1.15},{"s":"53","w":27.5,"p":1.1},{"s":"53","w":30.5,"p":1.0},{"s":"53","w":33.5,"p":0.95},{"s":"53","w":36.5,"p":0.9},{"s":"53","w":39.5,"p":0.9},{"s":"53","w":42.5,"p":0.82},{"s":"53","w":45.5,"p":0.78},{"s":"53","w":48.5,"p":0.72},{"s":"53","w":51.5,"p":0.72},
{"s":"54","w":0.5,"p":1.67},{"s":"54","w":3.5,"p":1.6},{"s":"54","w":6.5,"p":1.55},{"s":"54","w":9.5,"p":1.5},{"s":"54","w":12.5,"p":1.45},{"s":"54","w":15.5,"p":1.4},{"s":"54","w":18.5,"p":1.35},{"s":"54","w":21.5,"p":1.3},{"s":"54","w":24.5,"p":1.2},{"s":"54","w":27.5,"p":1.15},{"s":"54","w":30.5,"p":1.05},{"s":"54","w":33.5,"p":1.0},{"s":"54","w":36.5,"p":0.95},{"s":"54","w":39.5,"p":0.9},{"s":"54","w":42.5,"p":0.85},{"s":"54","w":45.5,"p":0.75},{"s":"54","w":48.5,"p":0.68},{"s":"54","w":51.5,"p":0.6},
{"s":"55","w":0.5,"p":1.66},{"s":"55","w":3.5,"p":1.6},{"s":"55","w":6.5,"p":1.52},{"s":"55","w":9.5,"p":1.45},{"s":"55","w":12.5,"p":1.4},{"s":"55","w":15.5,"p":1.35},{"s":"55","w":18.5,"p":1.3},{"s":"55","w":21.5,"p":1.2},{"s":"55","w":24.5,"p":1.2},{"s":"55","w":27.5,"p":1.15},{"s":"55","w":30.5,"p":1.1},{"s":"55","w":33.5,"p":1.05},{"s":"55","w":36.5,"p":0.98},{"s":"55","w":39.5,"p":0.92},{"s":"55","w":42.5,"p":0.88},{"s":"55","w":45.5,"p":0.85},{"s":"55","w":48.5,"p":0.8},{"s":"55","w":51.5,"p":0.82},
{"s":"56","w":0.5,"p":1.65},{"s":"56","w":3.5,"p":1.62},{"s":"56","w":6.5,"p":1.55},{"s":"56","w":9.5,"p":1.5},{"s":"56","w":12.5,"p":1.45},{"s":"56","w":15.5,"p":1.4},{"s":"56","w":18.5,"p":1.3},{"s":"56","w":21.5,"p":1.25},{"s":"56","w":24.5,"p":1.2},{"s":"56","w":27.5,"p":1.15},{"s":"56","w":30.5,"p":1.1},{"s":"56","w":33.5,"p":1.05},{"s":"56","w":36.5,"p":1.0},{"s":"56","w":39.5,"p":0.95},{"s":"56","w":42.5,"p":1.0},{"s":"56","w":45.5,"p":0.95},{"s":"56","w":48.5,"p":0.9},{"s":"56","w":51.5,"p":0.92},
{"s":"57","w":0.5,"p":1.7},{"s":"57","w":3.5,"p":1.66},{"s":"57","w":6.5,"p":1.72},{"s":"57","w":9.5,"p":1.8},{"s":"57","w":12.5,"p":1.75},{"s":"57","w":15.5,"p":1.82},{"s":"57","w":18.5,"p":1.9},{"s":"57","w":21.5,"p":1.85},{"s":"57","w":24.5,"p":1.95},{"s":"57","w":27.5,"p":1.9},{"s":"57","w":30.5,"p":1.8},{"s":"57","w":33.5,"p":1.88},{"s":"57","w":36.5,"p":1.95},{"s":"57","w":39.5,"p":2.05},{"s":"57","w":42.5,"p":1.98},{"s":"57","w":45.5,"p":2.1},{"s":"57","w":48.5,"p":2.05},{"s":"57","w":51.5,"p":2.0},
{"s":"58","w":0.5,"p":1.67},{"s":"58","w":3.5,"p":1.72},{"s":"58","w":6.5,"p":1.78},{"s":"58","w":9.5,"p":1.7},{"s":"58","w":12.5,"p":1.78},{"s":"58","w":15.5,"p":1.9},{"s":"58","w":18.5,"p":1.95},{"s":"58","w":21.5,"p":2.05},{"s":"58","w":24.5,"p":2.0},{"s":"58","w":27.5,"p":1.92},{"s":"58","w":30.5,"p":2.05},{"s":"58","w":33.5,"p":2.15},{"s":"58","w":36.5,"p":2.3},{"s":"58","w":39.5,"p":2.2},{"s":"58","w":42.5,"p":2.35},{"s":"58","w":45.5,"p":2.3},{"s":"58","w":48.5,"p":2.4},{"s":"58","w":51.5,"p":2.35},
{"s":"59","w":0.5,"p":1.69},{"s":"59","w":3.5,"p":1.64},{"s":"59","w":6.5,"p":1.6},{"s":"59","w":9.5,"p":1.66},{"s":"59","w":12.5,"p":1.62},{"s":"59","w":15.5,"p":1.7},{"s":"59","w":18.5,"p":1.65},{"s":"59","w":21.5,"p":1.58},{"s":"59","w":24.5,"p":1.62},{"s":"59","w":27.5,"p":1.55},{"s":"59","w":30.5,"p":1.6},{"s":"59","w":33.5,"p":1.52},{"s":"59","w":36.5,"p":1.5},{"s":"59","w":39.5,"p":1.58},{"s":"59","w":42.5,"p":1.62},{"s":"59","w":45.5,"p":1.55},{"s":"59","w":48.5,"p":1.52},{"s":"59","w":51.5,"p":1.55},
{"s":"60","w":0.5,"p":1.71},{"s":"60","w":3.5,"p":1.78},{"s":"60","w":6.5,"p":1.86},{"s":"60","w":9.5,"p":1.92},{"s":"60","w":12.5,"p":1.98},{"s":"60","w":15.5,"p":2.05},{"s":"60","w":18.5,"p":1.95},{"s":"60","w":21.5,"p":2.02},{"s":"60","w":24.5,"p":2.12},{"s":"60","w":27.5,"p":2.2},{"s":"60","w":30.5,"p":2.1},{"s":"60","w":33.5,"p":2.25},{"s":"60","w":36.5,"p":2.35},{"s":"60","w":39.5,"p":2.45},{"s":"60","w":42.5,"p":2.35},{"s":"60","w":45.5,"p":2.4},{"s":"60","w":48.5,"p":2.5},{"s":"60","w":51.5,"p":2.45},
{"s":"61","w":0.5,"p":1.66},{"s":"61","w":3.5,"p":1.6},{"s":"61","w":6.5,"p":1.66},{"s":"61","w":9.5,"p":1.6},{"s":"61","w":12.5,"p":1.55},{"s":"61","w":15.5,"p":1.6},{"s":"61","w":18.5,"p":1.55},{"s":"61","w":21.5,"p":1.62},{"s":"61","w":24.5,"p":1.58},{"s":"61","w":27.5,"p":1.5},{"s":"61","w":30.5,"p":1.55},{"s":"61","w":33.5,"p":1.45},{"s":"61","w":36.5,"p":1.5},{"s":"61","w":39.5,"p":1.42},{"s":"61","w":42.5,"p":1.48},{"s":"61","w":45.5,"p":1.4},{"s":"61","w":48.5,"p":1.35},{"s":"61","w":51.5,"p":1.38},
{"s":"62","w":0.5,"p":1.68},{"s":"62","w":3.5,"p":1.74},{"s":"62","w":6.5,"p":1.7},{"s":"62","w":9.5,"p":1.78},{"s":"62","w":12.5,"p":1.85},{"s":"62","w":15.5,"p":1.78},{"s":"62","w":18.5,"p":1.86},{"s":"62","w":21.5,"p":1.95},{"s":"62","w":24.5,"p":1.88},{"s":"62","w":27.5,"p":1.82},{"s":"62","w":30.5,"p":1.9},{"s":"62","w":33.5,"p":1.98},{"s":"62","w":36.5,"p":1.92},{"s":"62","w":39.5,"p":1.85},{"s":"62","w":42.5,"p":1.95},{"s":"62","w":45.5,"p":2.0},{"s":"62","w":48.5,"p":1.92},{"s":"62","w":51.5,"p":1.95},
{"s":"63","w":0.5,"p":1.7},{"s":"63","w":3.5,"p":1.75},{"s":"63","w":6.5,"p":1.82},{"s":"63","w":9.5,"p":1.78},{"s":"63","w":12.5,"p":1.72},{"s":"63","w":15.5,"p":1.68},{"s":"63","w":18.5,"p":1.74},{"s":"63","w":21.5,"p":1.66},{"s":"63","w":24.5,"p":1.72},{"s":"63","w":27.5,"p":1.78},{"s":"63","w":30.5,"p":1.85},{"s":"63","w":33.5,"p":1.78},{"s":"63","w":36.5,"p":1.72},{"s":"63","w":39.5,"p":1.8},{"s":"63","w":42.5,"p":1.85},{"s":"63","w":45.5,"p":1.78},{"s":"63","w":48.5,"p":1.85},{"s":"63","w":51.5,"p":1.8},
{"s":"64","w":0.5,"p":1.66},{"s":"64","w":3.5,"p":1.7},{"s":"64","w":6.5,"p":1.62},{"s":"64","w":9.5,"p":1.58},{"s":"64","w":12.5,"p":1.64},{"s":"64","w":15.5,"p":1.56},{"s":"64","w":18.5,"p":1.5},{"s":"64","w":21.5,"p":1.55},{"s":"64","w":24.5,"p":1.6},{"s":"64","w":27.5,"p":1.52},{"s":"64","w":30.5,"p":1.45},{"s":"64","w":33.5,"p":1.5},{"s":"64","w":36.5,"p":1.55},{"s":"64","w":39.5,"p":1.48},{"s":"64","w":42.5,"p":1.42},{"s":"64","w":45.5,"p":1.48},{"s":"64","w":48.5,"p":1.5},{"s":"64","w":51.5,"p":1.45},
{"s":"65","w":0.5,"p":1.68},{"s":"65","w":3.5,"p":1.72},{"s":"65","w":6.5,"p":1.8},{"s":"65","w":9.5,"p":1.88},{"s":"65","w":12.5,"p":1.95},{"s":"65","w":15.5,"p":1.9},{"s":"65","w":18.5,"p":2.0},{"s":"65","w":21.5,"p":2.1},{"s":"65","w":24.5,"p":2.05},{"s":"65","w":27.5,"p":2.15},{"s":"65","w":30.5,"p":2.25},{"s":"65","w":33.5,"p":2.2},{"s":"65","w":36.5,"p":2.1},{"s":"65","w":39.5,"p":2.2},{"s":"65","w":42.5,"p":2.28},{"s":"65","w":45.5,"p":2.15},{"s":"65","w":48.5,"p":2.2},{"s":"65","w":51.5,"p":2.15},
{"s":"66","w":0.5,"p":1.67},{"s":"66","w":3.5,"p":1.63},{"s":"66","w":6.5,"p":1.68},{"s":"66","w":9.5,"p":1.72},{"s":"66","w":12.5,"p":1.66},{"s":"66","w":15.5,"p":1.6},{"s":"66","w":18.5,"p":1.66},{"s":"66","w":21.5,"p":1.72},{"s":"66","w":24.5,"p":1.78},{"s":"66","w":27.5,"p":1.72},{"s":"66","w":30.5,"p":1.66},{"s":"66","w":33.5,"p":1.72},{"s":"66","w":36.5,"p":1.8},{"s":"66","w":39.5,"p":1.86},{"s":"66","w":42.5,"p":1.8},{"s":"66","w":45.5,"p":1.75},{"s":"66","w":48.5,"p":1.8},{"s":"66","w":51.5,"p":1.82},
{"s":"67","w":0.5,"p":1.69},{"s":"67","w":3.5,"p":1.74},{"s":"67","w":6.5,"p":1.8},{"s":"67","w":9.5,"p":1.86},{"s":"67","w":12.5,"p":1.8},{"s":"67","w":15.5,"p":1.9},{"s":"67","w":18.5,"p":1.98},{"s":"67","w":21.5,"p":2.06},{"s":"67","w":24.5,"p":2.0},{"s":"67","w":27.5,"p":2.1},{"s":"67","w":30.5,"p":2.2},{"s":"67","w":33.5,"p":2.3},{"s":"67","w":36.5,"p":2.25},{"s":"67","w":39.5,"p":2.35},{"s":"67","w":42.5,"p":2.45},{"s":"67","w":45.5,"p":2.5},{"s":"67","w":48.5,"p":2.45},{"s":"67","w":51.5,"p":2.5},
{"s":"68","w":0.5,"p":1.66},{"s":"68","w":3.5,"p":1.62},{"s":"68","w":6.5,"p":1.56},{"s":"68","w":9.5,"p":1.6},{"s":"68","w":12.5,"p":1.52},{"s":"68","w":15.5,"p":1.48},{"s":"68","w":18.5,"p":1.55},{"s":"68","w":21.5,"p":1.5},{"s":"68","w":24.5,"p":1.42},{"s":"68","w":27.5,"p":1.38},{"s":"68","w":30.5,"p":1.42},{"s":"68","w":33.5,"p":1.35},{"s":"68","w":36.5,"p":1.4},{"s":"68","w":39.5,"p":1.32},{"s":"68","w":42.5,"p":1.36},{"s":"68","w":45.5,"p":1.3},{"s":"68","w":48.5,"p":1.35},{"s":"68","w":51.5,"p":1.3},
{"s":"69","w":0.5,"p":1.7},{"s":"69","w":3.5,"p":1.76},{"s":"69","w":6.5,"p":1.72},{"s":"69","w":9.5,"p":1.8},{"s":"69","w":12.5,"p":1.86},{"s":"69","w":15.5,"p":1.92},{"s":"69","w":18.5,"p":1.86},{"s":"69","w":21.5,"p":1.8},{"s":"69","w":24.5,"p":1.86},{"s":"69","w":27.5,"p":1.94},{"s":"69","w":30.5,"p":2.0},{"s":"69","w":33.5,"p":1.95},{"s":"69","w":36.5,"p":2.02},{"s":"69","w":39.5,"p":1.96},{"s":"69","w":42.5,"p":1.9},{"s":"69","w":45.5,"p":1.96},{"s":"69","w":48.5,"p":2.02},{"s":"69","w":51.5,"p":2.0},
{"s":"70","w":0.5,"p":1.68},{"s":"70","w":3.5,"p":1.65},{"s":"70","w":6.5,"p":1.7},{"s":"70","w":9.5,"p":1.66},{"s":"70","w":12.5,"p":1.72},{"s":"70","w":15.5,"p":1.78},{"s":"70","w":18.5,"p":1.72},{"s":"70","w":21.5,"p":1.66},{"s":"70","w":24.5,"p":1.6},{"s":"70","w":27.5,"p":1.66},{"s":"70","w":30.5,"p":1.72},{"s":"70","w":33.5,"p":1.66},{"s":"70","w":36.5,"p":1.6},{"s":"70","w":39.5,"p":1.55},{"s":"70","w":42.5,"p":1.62},{"s":"70","w":45.5,"p":1.68},{"s":"70","w":48.5,"p":1.62},{"s":"70","w":51.5,"p":1.65},
{"s":"71","w":0.5,"p":1.65},{"s":"71","w":3.5,"p":1.6},{"s":"71","w":6.5,"p":1.55},{"s":"71","w":9.5,"p":1.58},{"s":"71","w":12.5,"p":1.52},{"s":"71","w":15.5,"p":1.46},{"s":"71","w":18.5,"p":1.5},{"s":"71","w":21.5,"p":1.44},{"s":"71","w":24.5,"p":1.4},{"s":"71","w":27.5,"p":1.46},{"s":"71","w":30.5,"p":1.52},{"s":"71","w":33.5,"p":1.45},{"s":"71","w":36.5,"p":1.38},{"s":"71","w":39.5,"p":1.42},{"s":"71","w":42.5,"p":1.36},{"s":"71","w":45.5,"p":1.4},{"s":"71","w":48.5,"p":1.45},{"s":"71","w":51.5,"p":1.42},
{"s":"72","w":0.5,"p":1.67},{"s":"72","w":3.5,"p":1.7},{"s":"72","w":6.5,"p":1.66},{"s":"72","w":9.5,"p":1.62},{"s":"72","w":12.5,"p":1.68},{"s":"72","w":15.5,"p":1.62},{"s":"72","w":18.5,"p":1.56},{"s":"72","w":21.5,"p":1.62},{"s":"72","w":24.5,"p":1.66},{"s":"72","w":27.5,"p":1.6},{"s":"72","w":30.5,"p":1.55},{"s":"72","w":33.5,"p":1.62},{"s":"72","w":36.5,"p":1.68},{"s":"72","w":39.5,"p":1.6},{"s":"72","w":42.5,"p":1.55},{"s":"72","w":45.5,"p":1.52},{"s":"72","w":48.5,"p":1.58},{"s":"72","w":51.5,"p":1.55},
{"s":"73","w":0.5,"p":1.7},{"s":"73","w":3.5,"p":1.76},{"s":"73","w":6.5,"p":1.9},{"s":"73","w":9.5,"p":1.98},{"s":"73","w":12.5,"p":2.05},{"s":"73","w":15.5,"p":2.1},{"s":"73","w":18.5,"p":2.2},{"s":"73","w":21.5,"p":2.35},{"s":"73","w":24.5,"p":2.42},{"s":"73","w":27.5,"p":2.55},{"s":"73","w":30.5,"p":2.7},{"s":"73","w":33.5,"p":2.62},{"s":"73","w":36.5,"p":2.75},{"s":"73","w":39.5,"p":2.9},{"s":"73","w":42.5,"p":2.85},{"s":"73","w":45.5,"p":2.95},{"s":"73","w":48.5,"p":3.0},{"s":"73","w":51.5,"p":2.95},
{"s":"74","w":0.5,"p":1.68},{"s":"74","w":3.5,"p":1.72},{"s":"74","w":6.5,"p":1.82},{"s":"74","w":9.5,"p":1.9},{"s":"74","w":12.5,"p":1.98},{"s":"74","w":15.5,"p":2.06},{"s":"74","w":18.5,"p":2.15},{"s":"74","w":21.5,"p":2.1},{"s":"74","w":24.5,"p":2.25},{"s":"74","w":27.5,"p":2.38},{"s":"74","w":30.5,"p":2.45},{"s":"74","w":33.5,"p":2.55},{"s":"74","w":36.5,"p":2.5},{"s":"74","w":39.5,"p":2.62},{"s":"74","w":42.5,"p":2.7},{"s":"74","w":45.5,"p":2.6},{"s":"74","w":48.5,"p":2.55},{"s":"74","w":51.5,"p":2.6},
{"s":"75","w":0.5,"p":1.66},{"s":"75","w":3.5,"p":1.7},{"s":"75","w":6.5,"p":1.76},{"s":"75","w":9.5,"p":1.72},{"s":"75","w":12.5,"p":1.8},{"s":"75","w":15.5,"p":1.88},{"s":"75","w":18.5,"p":1.82},{"s":"75","w":21.5,"p":1.9},{"s":"75","w":24.5,"p":1.98},{"s":"75","w":27.5,"p":2.05},{"s":"75","w":30.5,"p":2.12},{"s":"75","w":33.5,"p":2.0},{"s":"75","w":36.5,"p":2.08},{"s":"75","w":39.5,"p":2.2},{"s":"75","w":42.5,"p":2.12},{"s":"75","w":45.5,"p":2.05},{"s":"75","w":48.5,"p":2.12},{"s":"75","w":51.5,"p":2.15},
{"s":"76","w":0.5,"p":1.69},{"s":"76","w":3.5,"p":1.73},{"s":"76","w":6.5,"p":1.78},{"s":"76","w":9.5,"p":1.84},{"s":"76","w":12.5,"p":1.9},{"s":"76","w":15.5,"p":1.96},{"s":"76","w":18.5,"p":2.05},{"s":"76","w":21.5,"p":2.12},{"s":"76","w":24.5,"p":2.2},{"s":"76","w":27.5,"p":2.28},{"s":"76","w":30.5,"p":2.2},{"s":"76","w":33.5,"p":2.32},{"s":"76","w":36.5,"p":2.45},{"s":"76","w":39.5,"p":2.4},{"s":"76","w":42.5,"p":2.3},{"s":"76","w":45.5,"p":2.38},{"s":"76","w":48.5,"p":2.32},{"s":"76","w":51.5,"p":2.35},
{"s":"77","w":0.5,"p":1.67},{"s":"77","w":3.5,"p":1.64},{"s":"77","w":6.5,"p":1.6},{"s":"77","w":9.5,"p":1.65},{"s":"77","w":12.5,"p":1.7},{"s":"77","w":15.5,"p":1.62},{"s":"77","w":18.5,"p":1.58},{"s":"77","w":21.5,"p":1.64},{"s":"77","w":24.5,"p":1.7},{"s":"77","w":27.5,"p":1.76},{"s":"77","w":30.5,"p":1.7},{"s":"77","w":33.5,"p":1.78},{"s":"77","w":36.5,"p":1.85},{"s":"77","w":39.5,"p":1.8},{"s":"77","w":42.5,"p":1.72},{"s":"77","w":45.5,"p":1.78},{"s":"77","w":48.5,"p":1.75},{"s":"77","w":51.5,"p":1.7},
{"s":"78","w":0.5,"p":1.7},{"s":"78","w":3.5,"p":1.74},{"s":"78","w":6.5,"p":1.8},{"s":"78","w":9.5,"p":1.86},{"s":"78","w":12.5,"p":1.8},{"s":"78","w":15.5,"p":1.74},{"s":"78","w":18.5,"p":1.8},{"s":"78","w":21.5,"p":1.88},{"s":"78","w":24.5,"p":1.95},{"s":"78","w":27.5,"p":1.88},{"s":"78","w":30.5,"p":1.82},{"s":"78","w":33.5,"p":1.9},{"s":"78","w":36.5,"p":1.85},{"s":"78","w":39.5,"p":1.92},{"s":"78","w":42.5,"p":2.0},{"s":"78","w":45.5,"p":1.94},{"s":"78","w":48.5,"p":1.88},{"s":"78","w":51.5,"p":1.9},
{"s":"79","w":0.5,"p":1.66},{"s":"79","w":3.5,"p":1.62},{"s":"79","w":6.5,"p":1.58},{"s":"79","w":9.5,"p":1.54},{"s":"79","w":12.5,"p":1.5},{"s":"79","w":15.5,"p":1.55},{"s":"79","w":18.5,"p":1.6},{"s":"79","w":21.5,"p":1.55},{"s":"79","w":24.5,"p":1.5},{"s":"79","w":27.5,"p":1.45},{"s":"79","w":30.5,"p":1.5},{"s":"79","w":33.5,"p":1.55},{"s":"79","w":36.5,"p":1.6},{"s":"79","w":39.5,"p":1.55},{"s":"79","w":42.5,"p":1.6},{"s":"79","w":45.5,"p":1.65},{"s":"79","w":48.5,"p":1.6},{"s":"79","w":51.5,"p":1.62},
{"s":"80","w":0.5,"p":1.68},{"s":"80","w":3.5,"p":1.75},{"s":"80","w":6.5,"p":1.85},{"s":"80","w":9.5,"p":1.95},{"s":"80","w":12.5,"p":2.05},{"s":"80","w":15.5,"p":2.15},{"s":"80","w":18.5,"p":2.25},{"s":"80","w":21.5,"p":2.3},{"s":"80","w":24.5,"p":2.45},{"s":"80","w":27.5,"p":2.6},{"s":"80","w":30.5,"p":2.7},{"s":"80","w":33.5,"p":2.8},{"s":"80","w":36.5,"p":2.9},{"s":"80","w":39.5,"p":2.8},{"s":"80","w":42.5,"p":2.95},{"s":"80","w":45.5,"p":2.85},{"s":"80","w":48.5,"p":3.0},{"s":"80","w":51.5,"p":3.1},
{"s":"81","w":0.5,"p":1.67},{"s":"81","w":3.5,"p":1.72},{"s":"81","w":6.5,"p":1.68},{"s":"81","w":9.5,"p":1.74},{"s":"81","w":12.5,"p":1.8},{"s":"81","w":15.5,"p":1.86},{"s":"81","w":18.5,"p":1.92},{"s":"81","w":21.5,"p":1.88},{"s":"81","w":24.5,"p":1.8},{"s":"81","w":27.5,"p":1.86},{"s":"81","w":30.5,"p":1.92},{"s":"81","w":33.5,"p":2.0},{"s":"81","w":36.5,"p":2.08},{"s":"81","w":39.5,"p":2.02},{"s":"81","w":42.5,"p":1.95},{"s":"81","w":45.5,"p":2.02},{"s":"81","w":48.5,"p":2.08},{"s":"81","w":51.5,"p":2.05},
{"s":"82","w":0.5,"p":1.69},{"s":"82","w":3.5,"p":1.65},{"s":"82","w":6.5,"p":1.6},{"s":"82","w":9.5,"p":1.56},{"s":"82","w":12.5,"p":1.6},{"s":"82","w":15.5,"p":1.66},{"s":"82","w":18.5,"p":1.6},{"s":"82","w":21.5,"p":1.54},{"s":"82","w":24.5,"p":1.5},{"s":"82","w":27.5,"p":1.56},{"s":"82","w":30.5,"p":1.5},{"s":"82","w":33.5,"p":1.45},{"s":"82","w":36.5,"p":1.4},{"s":"82","w":39.5,"p":1.45},{"s":"82","w":42.5,"p":1.4},{"s":"82","w":45.5,"p":1.35},{"s":"82","w":48.5,"p":1.4},{"s":"82","w":51.5,"p":1.38},
{"s":"83","w":0.5,"p":1.66},{"s":"83","w":3.5,"p":1.7},{"s":"83","w":6.5,"p":1.75},{"s":"83","w":9.5,"p":1.7},{"s":"83","w":12.5,"p":1.66},{"s":"83","w":15.5,"p":1.72},{"s":"83","w":18.5,"p":1.78},{"s":"83","w":21.5,"p":1.72},{"s":"83","w":24.5,"p":1.78},{"s":"83","w":27.5,"p":1.85},{"s":"83","w":30.5,"p":1.78},{"s":"83","w":33.5,"p":1.72},{"s":"83","w":36.5,"p":1.78},{"s":"83","w":39.5,"p":1.72},{"s":"83","w":42.5,"p":1.66},{"s":"83","w":45.5,"p":1.72},{"s":"83","w":48.5,"p":1.68},{"s":"83","w":51.5,"p":1.7},
{"s":"84","w":0.5,"p":1.7},{"s":"84","w":3.5,"p":1.74},{"s":"84","w":6.5,"p":1.8},{"s":"84","w":9.5,"p":1.86},{"s":"84","w":12.5,"p":1.94},{"s":"84","w":15.5,"p":1.88},{"s":"84","w":18.5,"p":1.95},{"s":"84","w":21.5,"p":2.02},{"s":"84","w":24.5,"p":2.1},{"s":"84","w":27.5,"p":2.18},{"s":"84","w":30.5,"p":2.28},{"s":"84","w":33.5,"p":2.36},{"s":"84","w":36.5,"p":2.42},{"s":"84","w":39.5,"p":2.5},{"s":"84","w":42.5,"p":2.55},{"s":"84","w":45.5,"p":2.5},{"s":"84","w":48.5,"p":2.6},{"s":"84","w":51.5,"p":2.58},
{"s":"85","w":0.5,"p":1.68},{"s":"85","w":3.5,"p":1.64},{"s":"85","w":6.5,"p":1.7},{"s":"85","w":9.5,"p":1.65},{"s":"85","w":12.5,"p":1.7},{"s":"85","w":15.5,"p":1.75},{"s":"85","w":18.5,"p":1.7},{"s":"85","w":21.5,"p":1.64},{"s":"85","w":24.5,"p":1.7},{"s":"85","w":27.5,"p":1.62},{"s":"85","w":30.5,"p":1.58},{"s":"85","w":33.5,"p":1.64},{"s":"85","w":36.5,"p":1.58},{"s":"85","w":39.5,"p":1.65},{"s":"85","w":42.5,"p":1.6},{"s":"85","w":45.5,"p":1.55},{"s":"85","w":48.5,"p":1.6},{"s":"85","w":51.5,"p":1.58},
{"s":"86","w":0.5,"p":1.67},{"s":"86","w":3.5,"p":1.62},{"s":"86","w":6.5,"p":1.58},{"s":"86","w":9.5,"p":1.62},{"s":"86","w":12.5,"p":1.56},{"s":"86","w":15.5,"p":1.52},{"s":"86","w":18.5,"p":1.48},{"s":"86","w":21.5,"p":1.52},{"s":"86","w":24.5,"p":1.46},{"s":"86","w":27.5,"p":1.52},{"s":"86","w":30.5,"p":1.48},{"s":"86","w":33.5,"p":1.42},{"s":"86","w":36.5,"p":1.48},{"s":"86","w":39.5,"p":1.42},{"s":"86","w":42.5,"p":1.36},{"s":"86","w":45.5,"p":1.42},{"s":"86","w":48.5,"p":1.38},{"s":"86","w":51.5,"p":1.34},
{"s":"87","w":0.5,"p":1.7},{"s":"87","w":3.5,"p":1.78},{"s":"87","w":6.5,"p":1.88},{"s":"87","w":9.5,"p":1.96},{"s":"87","w":12.5,"p":2.05},{"s":"87","w":15.5,"p":2.12},{"s":"87","w":18.5,"p":2.18},{"s":"87","w":21.5,"p":2.1},{"s":"87","w":24.5,"p":2.2},{"s":"87","w":27.5,"p":2.32},{"s":"87","w":30.5,"p":2.4},{"s":"87","w":33.5,"p":2.5},{"s":"87","w":36.5,"p":2.58},{"s":"87","w":39.5,"p":2.65},{"s":"87","w":42.5,"p":2.58},{"s":"87","w":45.5,"p":2.7},{"s":"87","w":48.5,"p":2.78},{"s":"87","w":51.5,"p":2.72},
{"s":"88","w":0.5,"p":1.66},{"s":"88","w":3.5,"p":1.6},{"s":"88","w":6.5,"p":1.55},{"s":"88","w":9.5,"p":1.5},{"s":"88","w":12.5,"p":1.46},{"s":"88","w":15.5,"p":1.42},{"s":"88","w":18.5,"p":1.45},{"s":"88","w":21.5,"p":1.38},{"s":"88","w":24.5,"p":1.34},{"s":"88","w":27.5,"p":1.3},{"s":"88","w":30.5,"p":1.26},{"s":"88","w":33.5,"p":1.22},{"s":"88","w":36.5,"p":1.28},{"s":"88","w":39.5,"p":1.22},{"s":"88","w":42.5,"p":1.18},{"s":"88","w":45.5,"p":1.2},{"s":"88","w":48.5,"p":1.16},{"s":"88","w":51.5,"p":1.15},
{"s":"89","w":0.5,"p":1.68},{"s":"89","w":3.5,"p":1.72},{"s":"89","w":6.5,"p":1.78},{"s":"89","w":9.5,"p":1.85},{"s":"89","w":12.5,"p":1.92},{"s":"89","w":15.5,"p":1.98},{"s":"89","w":18.5,"p":2.05},{"s":"89","w":21.5,"p":2.12},{"s":"89","w":24.5,"p":2.08},{"s":"89","w":27.5,"p":2.15},{"s":"89","w":30.5,"p":2.25},{"s":"89","w":33.5,"p":2.35},{"s":"89","w":36.5,"p":2.45},{"s":"89","w":39.5,"p":2.55},{"s":"89","w":42.5,"p":2.65},{"s":"89","w":45.5,"p":2.58},{"s":"89","w":48.5,"p":2.52},{"s":"89","w":51.5,"p":2.55},
{"s":"90","w":0.5,"p":1.69},{"s":"90","w":3.5,"p":1.74},{"s":"90","w":6.5,"p":1.7},{"s":"90","w":9.5,"p":1.66},{"s":"90","w":12.5,"p":1.72},{"s":"90","w":15.5,"p":1.78},{"s":"90","w":18.5,"p":1.84},{"s":"90","w":21.5,"p":1.9},{"s":"90","w":24.5,"p":1.84},{"s":"90","w":27.5,"p":1.78},{"s":"90","w":30.5,"p":1.84},{"s":"90","w":33.5,"p":1.9},{"s":"90","w":36.5,"p":1.98},{"s":"90","w":39.5,"p":1.92},{"s":"90","w":42.5,"p":1.86},{"s":"90","w":45.5,"p":1.92},{"s":"90","w":48.5,"p":1.98},{"s":"90","w":51.5,"p":1.95},
{"s":"91","w":0.5,"p":1.7},{"s":"91","w":3.5,"p":1.76},{"s":"91","w":6.5,"p":1.84},{"s":"91","w":9.5,"p":1.92},{"s":"91","w":12.5,"p":2.0},{"s":"91","w":15.5,"p":2.08},{"s":"91","w":18.5,"p":2.16},{"s":"91","w":21.5,"p":2.24},{"s":"91","w":24.5,"p":2.35},{"s":"91","w":27.5,"p":2.45},{"s":"91","w":30.5,"p":2.55},{"s":"91","w":33.5,"p":2.65},{"s":"91","w":36.5,"p":2.75},{"s":"91","w":39.5,"p":2.68},{"s":"91","w":42.5,"p":2.75},{"s":"91","w":45.5,"p":2.82},{"s":"91","w":48.5,"p":2.75},{"s":"91","w":51.5,"p":2.8},
{"s":"92","w":0.5,"p":1.66},{"s":"92","w":3.5,"p":1.62},{"s":"92","w":6.5,"p":1.66},{"s":"92","w":9.5,"p":1.6},{"s":"92","w":12.5,"p":1.55},{"s":"92","w":15.5,"p":1.5},{"s":"92","w":18.5,"p":1.55},{"s":"92","w":21.5,"p":1.48},{"s":"92","w":24.5,"p":1.44},{"s":"92","w":27.5,"p":1.5},{"s":"92","w":30.5,"p":1.44},{"s":"92","w":33.5,"p":1.38},{"s":"92","w":36.5,"p":1.32},{"s":"92","w":39.5,"p":1.36},{"s":"92","w":42.5,"p":1.3},{"s":"92","w":45.5,"p":1.26},{"s":"92","w":48.5,"p":1.3},{"s":"92","w":51.5,"p":1.28},
{"s":"93","w":0.5,"p":1.67},{"s":"93","w":3.5,"p":1.7},{"s":"93","w":6.5,"p":1.76},{"s":"93","w":9.5,"p":1.82},{"s":"93","w":12.5,"p":1.76},{"s":"93","w":15.5,"p":1.82},{"s":"93","w":18.5,"p":1.88},{"s":"93","w":21.5,"p":1.94},{"s":"93","w":24.5,"p":2.0},{"s":"93","w":27.5,"p":2.08},{"s":"93","w":30.5,"p":2.02},{"s":"93","w":33.5,"p":2.12},{"s":"93","w":36.5,"p":2.2},{"s":"93","w":39.5,"p":2.28},{"s":"93","w":42.5,"p":2.2},{"s":"93","w":45.5,"p":2.14},{"s":"93","w":48.5,"p":2.2},{"s":"93","w":51.5,"p":2.18},
{"s":"94","w":0.5,"p":1.68},{"s":"94","w":3.5,"p":1.64},{"s":"94","w":6.5,"p":1.6},{"s":"94","w":9.5,"p":1.55},{"s":"94","w":12.5,"p":1.58},{"s":"94","w":15.5,"p":1.52},{"s":"94","w":18.5,"p":1.48},{"s":"94","w":21.5,"p":1.44},{"s":"94","w":24.5,"p":1.48},{"s":"94","w":27.5,"p":1.42},{"s":"94","w":30.5,"p":1.38},{"s":"94","w":33.5,"p":1.32},{"s":"94","w":36.5,"p":1.36},{"s":"94","w":39.5,"p":1.3},{"s":"94","w":42.5,"p":1.34},{"s":"94","w":45.5,"p":1.28},{"s":"94","w":48.5,"p":1.24},{"s":"94","w":51.5,"p":1.26},
{"s":"95","w":0.5,"p":1.7},{"s":"95","w":3.5,"p":1.74},{"s":"95","w":6.5,"p":1.78},{"s":"95","w":9.5,"p":1.72},{"s":"95","w":12.5,"p":1.78},{"s":"95","w":15.5,"p":1.84},{"s":"95","w":18.5,"p":1.9},{"s":"95","w":21.5,"p":1.96},{"s":"95","w":24.5,"p":2.04},{"s":"95","w":27.5,"p":2.1},{"s":"95","w":30.5,"p":2.18},{"s":"95","w":33.5,"p":2.24},{"s":"95","w":36.5,"p":2.18},{"s":"95","w":39.5,"p":2.3},{"s":"95","w":42.5,"p":2.38},{"s":"95","w":45.5,"p":2.45},{"s":"95","w":48.5,"p":2.4},{"s":"95","w":51.5,"p":2.42},
{"s":"96","w":0.5,"p":1.66},{"s":"96","w":3.5,"p":1.7},{"s":"96","w":6.5,"p":1.74},{"s":"96","w":9.5,"p":1.8},{"s":"96","w":12.5,"p":1.86},{"s":"96","w":15.5,"p":1.8},{"s":"96","w":18.5,"p":1.74},{"s":"96","w":21.5,"p":1.8},{"s":"96","w":24.5,"p":1.86},{"s":"96","w":27.5,"p":1.8},{"s":"96","w":30.5,"p":1.74},{"s":"96","w":33.5,"p":1.68},{"s":"96","w":36.5,"p":1.74},{"s":"96","w":39.5,"p":1.68},{"s":"96","w":42.5,"p":1.62},{"s":"96","w":45.5,"p":1.68},{"s":"96","w":48.5,"p":1.62},{"s":"96","w":51.5,"p":1.6}
],
"obs":[
{"w":0.53,"p":1.67},{"w":2.14,"p":1.72},{"w":3.1,"p":1.74},{"w":5.42,"p":1.99},{"w":7.52,"p":1.72},{"w":8.57,"p":1.85},{"w":10.52,"p":1.62},{"w":12.9,"p":1.59},{"w":14.7,"p":1.52},{"w":16.1,"p":1.38},{"w":17.5,"p":1.15},{"w":18.9,"p":1.15},{"w":20.8,"p":1.28},{"w":22.2,"p":1.3},{"w":23.6,"p":1.29},{"w":24.5,"p":1.33},{"w":26.4,"p":1.37},{"w":26.6,"p":1.41},{"w":27.6,"p":1.74},{"w":28.5,"p":1.76},{"w":29.4,"p":2.14},{"w":31.1,"p":2.33},{"w":32.5,"p":2.37},{"w":33.6,"p":2.01},{"w":36.4,"p":2.01},{"w":38.5,"p":3.24},{"w":39.7,"p":2.79},{"w":41.5,"p":2.79},{"w":42.9,"p":2.47},{"w":43.6,"p":2.47},{"w":44.4,"p":2.81},{"w":45.5,"p":2.52},{"w":46.8,"p":2.51},{"w":47.6,"p":1.82},{"w":48.5,"p":2.01},{"w":49.7,"p":1.71},{"w":50.1,"p":1.66},{"w":51.4,"p":1.65}
]},
"layer":[
{"data":{"name":"sim"},
 "mark":{"type":"line","strokeWidth":2,"clip":true},
 "encoding":{
  "x":{"field":"w","type":"quantitative","scale":{"domain":[0,51.4],"nice":false,"zero":false},
   "axis":{"title":"Date","values":[0,3,7,11,15,20,24,28,33,37,42,46,50],
    "labelExpr":"datum.value==0?'04/12':datum.value==3?'05/1':datum.value==7?'2':datum.value==11?'3':datum.value==15?'4':datum.value==20?'5':datum.value==24?'6':datum.value==28?'7':datum.value==33?'8':datum.value==37?'9':datum.value==42?'10':datum.value==46?'11':'12'",
    "labelOffset":7,"labelPadding":16,"labelFontSize":15,"labelOverlap":false,"labelFlush":false,"titleFontSize":21,"titlePadding":8,"titleX":353}},
  "y":{"field":"p","type":"quantitative","scale":{"domain":[0,4],"nice":false},
   "axis":{"title":"Price ($/t-CO₂)","values":[0,0.5,1,1.5,2,2.5,3,3.5,4],"format":"~g","labelPadding":11,"labelFontSize":22,"titleFontSize":22,"titlePadding":20}},
  "color":{"field":"s","type":"nominal","legend":null,"scale":{"range":["#000080","#ff00ff","#ff7f00","#c0ffc0","#ffff00","#00c8ff","#ff00ff","#808000","#008080","#8b0000","#ffff90","#ff0000","#00c000","#0000ff","#a0522d","#800080","#888888","#9999ff","#006400","#ff8c00","#8b0000","#ff0000","#00c000","#0000ff","#ff00ff","#00ffff","#ff8c00","#a52a2a","#ffd700","#000080","#ffb6c1","#008080","#000000","#87cefa","#00ff00","#c080ff","#808000","#ff0000","#0000ff","#008000","#800080","#ff8c00","#00ffff","#daa520","#a0a0a0","#ff00ff","#ffa07a","#4169e1","#8b0000","#c0ffff","#2e8b57","#808000","#0000ff","#b0b0b0","#800080","#ffd700","#ff69b4","#00ced1","#556b2f","#ff4500","#9400d3","#32cd32","#1e90ff","#dc143c","#ffa500","#20b2aa","#8b4513","#ba55d3","#228b22","#6a5acd","#f08080","#000000","#ff0000","#0000cd","#ff00ff","#00a000","#ffa500","#00bfff","#a0522d","#9acd32","#c71585","#4682b4","#ff6347","#2f4f4f","#ee82ee","#00ff7f","#b8860b","#483d8b","#ff1493","#008b8b","#ffd700","#a9a9a9","#7b68ee","#8b0000","#00ff00","#cd853f"]}},
  "strokeDash":{"field":"s","type":"nominal","legend":null,"scale":{"range":[[1,0],[10,6],[1,0],[10,4,3,4],[10,6],[3,4],[1,0],[1,0],[1,0],[7,5],[3,4],[7,4],[1,0],[10,4,3,4],[3,4],[1,0],[7,5],[3,4],[7,5],[7,5],[1,0],[1,0],[7,5],[1,0],[3,4],[1,0],[3,4],[10,4,3,4],[1,0],[7,5],[1,0],[7,5],[7,5],[1,0],[7,5],[1,0],[3,4],[10,4,3,4],[7,5],[1,0],[7,5],[1,0],[7,5],[7,5],[1,0],[7,5],[1,0],[3,4],[1,0],[10,6],[10,6],[10,6],[1,0],[10,6],[10,6],[7,5],[7,5],[1,0],[10,4,3,4],[3,4],[7,5],[1,0],[7,5],[1,0],[10,6],[3,4],[1,0],[10,4,3,4],[7,5],[1,0],[7,5],[1,0],[3,4],[7,5],[1,0],[10,4,3,4],[1,0],[7,5],[1,0],[1,0],[7,5],[3,4],[7,5],[1,0],[3,4],[7,5],[1,0],[7,5],[1,0],[3,4],[7,5],[1,0],[1,0],[3,4],[1,0],[7,5]]}}
 }},
{"data":{"name":"obs"},
 "mark":{"type":"line","strokeWidth":5,"color":"#383838","clip":true},
 "encoding":{"x":{"field":"w","type":"quantitative"},"y":{"field":"p","type":"quantitative"}}},
{"data":{"name":"xt"},
 "mark":{"type":"rule","color":"#404040","strokeWidth":1.2},
 "encoding":{"x":{"field":"t","type":"quantitative"},"y":{"datum":0},"y2":{"datum":0.05}}},
{"data":{"name":"yt"},
 "mark":{"type":"rule","color":"#404040","strokeWidth":1.2},
 "encoding":{"y":{"field":"v","type":"quantitative"},"x":{"datum":0},"x2":{"datum":0.5}}}
]
}
